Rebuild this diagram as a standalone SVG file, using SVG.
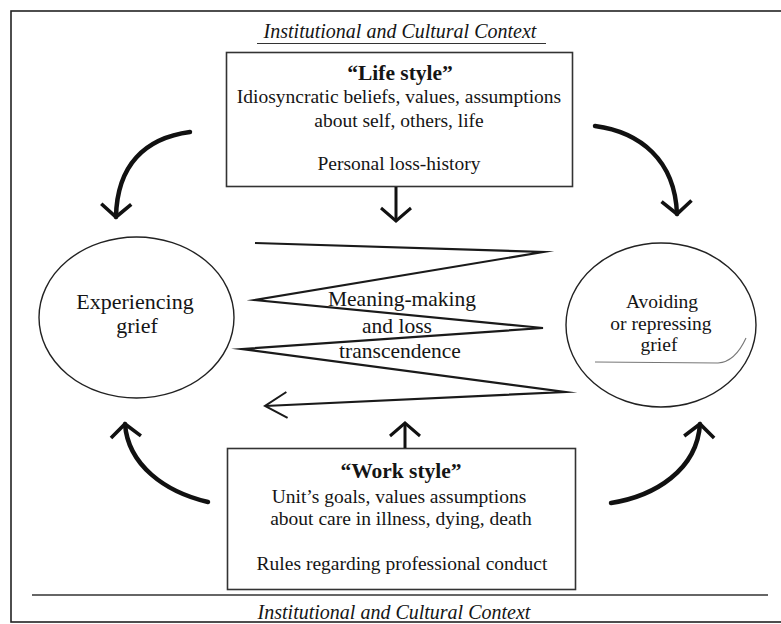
<svg xmlns="http://www.w3.org/2000/svg" width="781" height="624" viewBox="0 0 781 624">
<style>
text{font-family:"Liberation Serif","Times New Roman",serif;fill:#151515;text-anchor:middle}
.ctx{font-style:italic;font-size:20px}
.body{font-size:19.5px}
.title{font-size:21.5px;font-weight:bold}
.big{font-size:22px}
.mid{font-size:21.5px}
.box{fill:none;stroke:#333;stroke-width:1.6}
.ell{fill:none;stroke:#222;stroke-width:1.4}
.curve{fill:none;stroke:#111;stroke-width:4.5;stroke-linecap:round}
.straight{fill:none;stroke:#111;stroke-width:3}
.zig{fill:none;stroke:#1a1a1a;stroke-width:2.2;stroke-linejoin:miter;stroke-miterlimit:12}
</style>
<defs>
<marker id="headBig" markerUnits="userSpaceOnUse" markerWidth="40" markerHeight="40" viewBox="-20 -20 40 40" refX="0" refY="0" orient="auto" overflow="visible">
<path d="M-13,-15 L0,0 L-13,15" fill="none" stroke="#111" stroke-width="3.6" stroke-linejoin="miter"/>
</marker>
<marker id="headMid" markerUnits="userSpaceOnUse" markerWidth="40" markerHeight="40" viewBox="-20 -20 40 40" refX="0" refY="0" orient="auto" overflow="visible">
<path d="M-13,-15 L0,0 L-13,15" fill="none" stroke="#111" stroke-width="3" stroke-linejoin="miter"/>
</marker>
<marker id="headZig" markerUnits="userSpaceOnUse" markerWidth="50" markerHeight="40" viewBox="-25 -20 50 40" refX="0" refY="0" orient="auto" overflow="visible">
<path d="M-22,-13 L0,0 L-22,13" fill="none" stroke="#1a1a1a" stroke-width="2" stroke-linejoin="miter"/>
</marker>
</defs>
<rect x="0" y="0" width="781" height="624" fill="#ffffff"/>
<rect x="11" y="11" width="800" height="611" fill="none" stroke="#222" stroke-width="1.6"/>

<g id="context-top">
<text class="ctx" x="400" y="38">Institutional and Cultural Context</text>
<line x1="257" y1="43.5" x2="546" y2="43.5" stroke="#333" stroke-width="1.2"/>
</g>

<g id="life-style">
<rect class="box" x="226.5" y="52.5" width="346" height="134"/>
<text class="title" x="400" y="80">“Life style”</text>
<text class="body" x="399" y="103">Idiosyncratic beliefs, values, assumptions</text>
<text class="body" x="399" y="127">about self, others, life</text>
<text class="body" x="399" y="170">Personal loss-history</text>
</g>

<g id="experiencing-grief">
<ellipse class="ell" cx="136.5" cy="317.5" rx="97.5" ry="80.5"/>
<text class="big" x="135" y="309">Experiencing</text>
<text class="big" x="137" y="333">grief</text>
</g>

<g id="avoiding-grief">
<ellipse class="ell" cx="661" cy="325" rx="95" ry="82"/>
<text class="body" x="662" y="308">Avoiding</text>
<text class="body" x="661" y="330">or repressing</text>
<text class="body" x="659" y="351">grief</text>
<path d="M595,362 L718,363 Q735,362 746,338" fill="none" stroke="#777" stroke-width="1.1"/>
</g>

<g id="meaning-making">
<text class="mid" x="402" y="306">Meaning-making</text>
<text class="mid" x="397" y="333">and loss</text>
<text class="mid" x="400" y="358">transcendence</text>
</g>

<g id="work-style">
<rect class="box" x="227.5" y="448.5" width="348" height="141"/>
<text class="title" x="401" y="478">“Work style”</text>
<text class="body" x="399" y="503">Unit’s goals, values assumptions</text>
<text class="body" x="401" y="525">about care in illness, dying, death</text>
<text class="body" x="402" y="570">Rules regarding professional conduct</text>
</g>

<g id="context-bottom">
<line x1="32" y1="595" x2="768" y2="595" stroke="#333" stroke-width="1.5"/>
<text class="ctx" x="394" y="619">Institutional and Cultural Context</text>
</g>

<g id="connectors">
<path class="curve" d="M190,132 C145,138 117,165 116,217" marker-end="url(#headBig)"/>
<path class="curve" d="M595,126 C640,132 675,160 677,214" marker-end="url(#headBig)"/>
<line class="straight" x1="396" y1="187" x2="396" y2="221" marker-end="url(#headMid)"/>
<path class="curve" d="M208,502 C165,492 128,465 125,424" marker-end="url(#headBig)"/>
<path class="curve" d="M611,503 C655,496 697,470 700,424" marker-end="url(#headBig)"/>
<line class="straight" x1="405" y1="448" x2="405" y2="423" marker-end="url(#headMid)"/>
<polyline class="zig" points="255,243 543,252 255,300 543,328 242,349 565,392 265,406" marker-end="url(#headZig)"/>
</g>
</svg>
